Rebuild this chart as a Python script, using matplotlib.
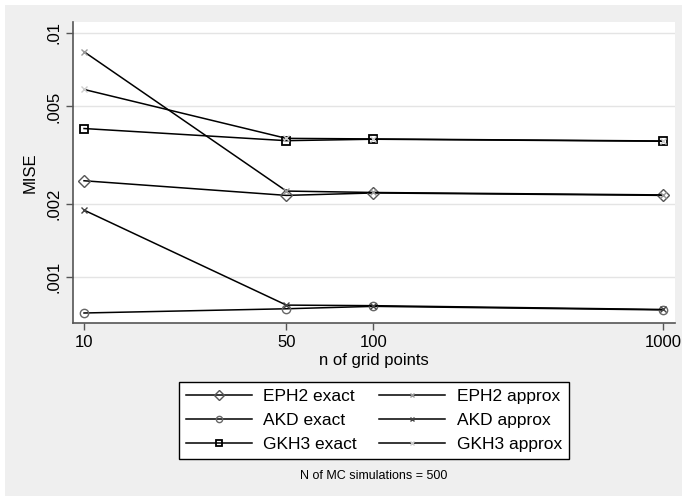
import numpy as np
import matplotlib.pyplot as plt
from matplotlib.patches import Rectangle

plt.rcParams['font.family'] = ['Liberation Sans', 'DejaVu Sans']

grid_n = [10, 50, 100, 1000]
eph2_exact = [0.00248, 0.00216, 0.00221, 0.00216]
akd_exact = [0.000712, 0.000741, 0.000758, 0.000733]
gkh3_exact = [0.00406, 0.00362, 0.00367, 0.00360]
eph2_approx = [0.00838, 0.00225, 0.00222, 0.00217]
akd_approx = [0.00188, 0.000767, 0.000763, 0.000736]
gkh3_approx = [0.00587, 0.00370, 0.00368, 0.00361]

yticks = [0.001, 0.002, 0.005, 0.01]
ytick_labels = ['.001', '.002', '.005', '.01']

fig = plt.figure(figsize=(6.87, 5.01), dpi=100)
fig.patch.set_facecolor('white')
fig.patches.append(Rectangle((5 / 687, 5 / 501), 677 / 687, 491 / 501,
                             transform=fig.transFigure, facecolor='#efefef',
                             edgecolor='none', zorder=-10))

ax = fig.add_axes([73 / 687, 178 / 501, 602 / 687, 301 / 501])
ax.set_facecolor('white')
ax.set_xscale('log')
ax.set_yscale('log')

ax.plot(grid_n, eph2_exact, color='black', lw=1.1, marker='D', ms=6.5,
        mfc='none', mec='#555555', mew=1.0, label='EPH2 exact')
ax.plot(grid_n, akd_exact, color='black', lw=1.1, marker='o', ms=6,
        mfc='none', mec='#666666', mew=1.0, label='AKD exact')
ax.plot(grid_n, gkh3_exact, color='black', lw=1.1, marker='s', ms=6,
        mfc='none', mec='black', mew=1.3, label='GKH3 exact')
ax.plot(grid_n, eph2_approx, color='black', lw=1.1, marker='x', ms=4,
        mec='#999999', mew=1.0, label='EPH2 approx')
ax.plot(grid_n, akd_approx, color='black', lw=1.1, marker='x', ms=4,
        mec='#444444', mew=1.0, label='AKD approx')
ax.plot(grid_n, gkh3_approx, color='black', lw=1.1, marker='x', ms=4,
        mec='#cccccc', mew=1.0, label='GKH3 approx')

ax.set_xlim(10 ** (1 - 11 / 289), 10 ** (3 + 12 / 289))
ax.set_ylim(10 ** (-3 - 46 / 244), 10 ** (-2 + 11 / 244))

ax.set_xticks(grid_n)
ax.set_xticklabels([str(v) for v in grid_n], fontsize=12)
ax.xaxis.set_minor_locator(plt.NullLocator())
ax.set_yticks(yticks)
ax.set_yticklabels(ytick_labels, fontsize=12, rotation=90, va='center')
ax.yaxis.set_minor_locator(plt.NullLocator())
ax.grid(axis='y', color='#e4e4e4', lw=1)
ax.set_axisbelow(True)

for s in ['top', 'right']:
    ax.spines[s].set_visible(False)
for s in ['left', 'bottom']:
    ax.spines[s].set_color('#555555')
    ax.spines[s].set_linewidth(1.2)
ax.tick_params(colors='#555555', labelcolor='black', length=5, width=1)

ax.set_xlabel('n of grid points', fontsize=12, labelpad=2)
ax.set_ylabel('MISE', fontsize=12, labelpad=6)

h, l = ax.get_legend_handles_labels()
leg = fig.legend(h, l, ncol=2, loc='center',
                 bbox_to_anchor=(374 / 687, 1 - 420.5 / 501),
                 fontsize=12.5, handlelength=3.8, frameon=True, fancybox=False,
                 edgecolor='black', framealpha=1, borderpad=0.4,
                 labelspacing=0.5, columnspacing=1.3, handletextpad=0.65,
                 markerscale=0.75)
leg.get_frame().set_linewidth(1.0)

fig.text(374 / 687, 1 - 476 / 501, 'N of MC simulations = 500',
         fontsize=9, ha='center', va='center')

fig.savefig('out.png', dpi=100)
